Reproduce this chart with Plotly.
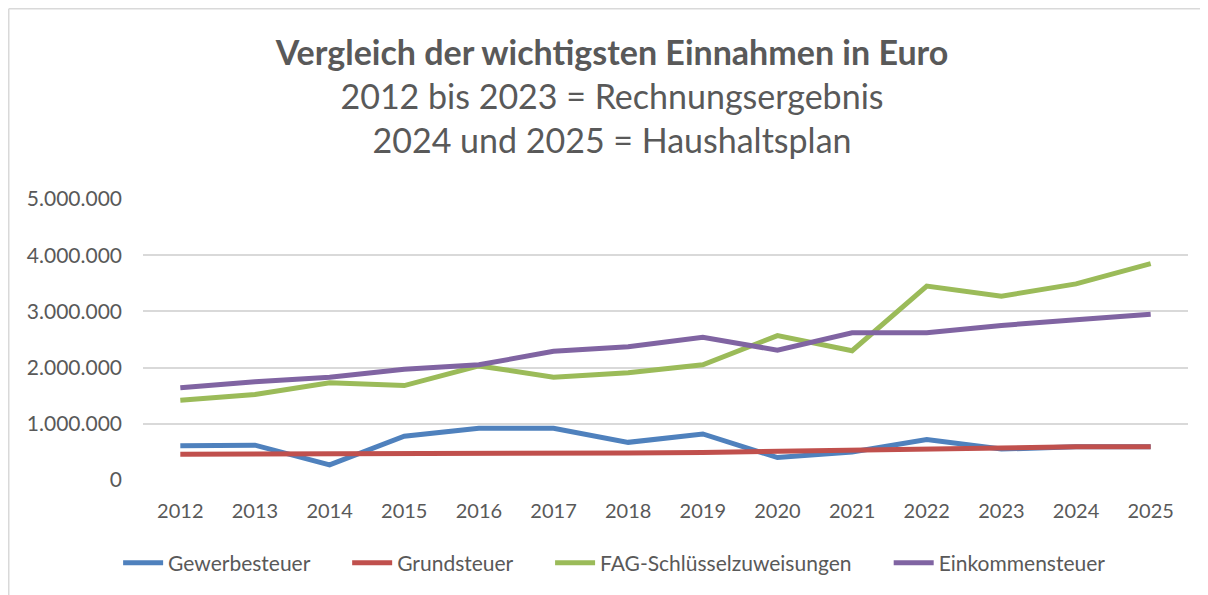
import plotly.graph_objects as go

# Werte in Euro
jahre = ['2012', '2013', '2014', '2015', '2016', '2017', '2018',
         '2019', '2020', '2021', '2022', '2023', '2024', '2025']

gewerbesteuer = [610000, 620000, 270000, 780000, 920000, 920000, 670000,
                 820000, 400000, 500000, 720000, 550000, 590000, 590000]
grundsteuer = [460000, 460000, 470000, 480000, 480000, 480000, 480000,
               490000, 510000, 530000, 570000, 590000, 590000, 590000]
fag_schluesselzuweisungen = [1420000, 1520000, 1730000, 1680000, 2030000, 1830000, 1910000,
                             2050000, 2570000, 2300000, 3450000, 3270000, 3490000, 3850000]
einkommensteuer = [1640000, 1750000, 1830000, 1970000, 2050000, 2290000, 2370000,
                   2540000, 2310000, 2620000, 2620000, 2750000, 2850000, 2950000]

y_ticks = [0, 1000000, 2000000, 3000000, 4000000, 5000000]
y_labels = ['0', '1.000.000', '2.000.000', '3.000.000', '4.000.000', '5.000.000']

# the page puts the figure 8px in from the top-left corner
W, H = 1208, 595
L, R, T, B = 135, 28, 191, 123

FONT = 'Lato'
GREY = '#595959'

fig = go.Figure()

series = [
    ('Gewerbesteuer', gewerbesteuer, '#4F81BD'),
    ('Grundsteuer', grundsteuer, '#C0504D'),
    ('FAG-Schlüsselzuweisungen', fag_schluesselzuweisungen, '#9BBB59'),
    ('Einkommensteuer', einkommensteuer, '#8064A2'),
]
for name, vals, col in series:
    fig.add_trace(go.Scatter(
        x=jahre, y=vals, name=name + '\u00a0' * 6, mode='lines',
        line=dict(color=col, width=5),
    ))

# frame (left and top) like in the original
pw, ph = W - L - R, H - T - B
def px_x(p):
    return (p - L) / pw
def px_y(p):
    return (H - B - p) / ph

fig.add_shape(type='line', xref='paper', yref='paper',
              x0=px_x(0.75), x1=px_x(0.75), y0=px_y(0.75), y1=px_y(H),
              line=dict(color='#D9D9D9', width=1.5))
fig.add_shape(type='line', xref='paper', yref='paper',
              x0=px_x(0.75), x1=px_x(W), y0=px_y(0.75), y1=px_y(0.75),
              line=dict(color='#D9D9D9', width=1.5))

fig.update_layout(
    width=W, height=H,
    margin=dict(l=L, r=R, t=T, b=B),
    paper_bgcolor='white', plot_bgcolor='white',
    font=dict(family=FONT, color=GREY, size=20),
    title=dict(
        text='<b>Vergleich der wichtigsten Einnahmen in Euro</b><br>'
             '2012 bis 2023 = Rechnungsergebnis<br>'
             '2024 und 2025 = Haushaltsplan',
        x=0.5, xref='container', xanchor='center',
        y=0.905, yanchor='top',
        font=dict(family=FONT, size=34, color=GREY),
    ),
    showlegend=True,
    legend=dict(
        orientation='h', xref='container', yref='container',
        x=0.515, xanchor='center', y=0.067, yanchor='middle',
        font=dict(family=FONT, size=21, color=GREY),
        itemwidth=40, tracegroupgap=0,
    ),
)

fig.update_xaxes(
    type='category', range=[-0.5, 13.5],
    showgrid=False, showline=False, zeroline=False,
    ticks='', ticklabelstandoff=17,
    tickfont=dict(family=FONT, size=20, color=GREY),
)
fig.update_yaxes(
    range=[0, 5000000], tickvals=y_ticks, ticktext=y_labels,
    showgrid=True, gridcolor='#D9D9D9', gridwidth=1.5,
    zeroline=False, showline=False, ticks='', ticklabelstandoff=20,
    tickfont=dict(family=FONT, size=21, color=GREY),
)

fig.write_html('out.html')
